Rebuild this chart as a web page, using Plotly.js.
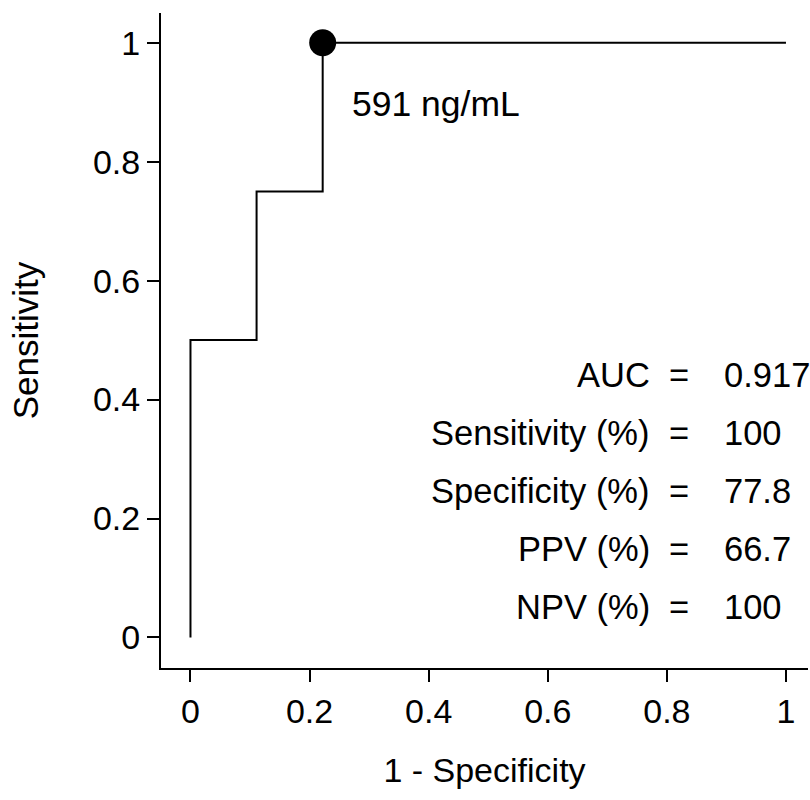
<!DOCTYPE html>
<html>
<head>
<meta charset="utf-8">
<script src="https://cdn.plot.ly/plotly-3.0.1.min.js"></script>
<style>html,body{margin:0;padding:0;background:#fff}</style>
</head>
<body>
<div id="chart" style="width:810px;height:800px"></div>
<script>
// ROC curve points (1 - specificity, sensitivity)
const fpr = [0, 0, 0.111, 0.111, 0.222, 0.222, 1];
const tpr = [0, 0.5, 0.5, 0.75, 0.75, 1, 1];
// Optimal cutoff
const cutX = [0.222];
const cutY = [1];
const cutLabel = "591 ng/mL";
// Statistics block
const statLabels = ["AUC", "Sensitivity (%)", "Specificity (%)", "PPV (%)", "NPV (%)"];
const statValues = ["0.917", "100", "77.8", "66.7", "100"];
const statY = [0.441, 0.344, 0.246, 0.149, 0.051];
const tickVals = [0, 0.2, 0.4, 0.6, 0.8, 1];
const tickText = ["0", "0.2", "0.4", "0.6", "0.8", "1"];

const FONT = "Liberation Sans, Arial, Helvetica, sans-serif";
const FS = 34;
const TS = 34.5;

const traces = [
  {x: fpr, y: tpr, mode: "lines", line: {color: "#000", width: 2, shape: "linear"}, hoverinfo: "skip"},
  {x: cutX, y: cutY, mode: "markers", marker: {color: "#000", size: 27}, hoverinfo: "skip"}
];

const ann = [{
  x: cutX[0], y: cutY[0], xref: "x", yref: "y", text: cutLabel, showarrow: false,
  xanchor: "left", yanchor: "middle", xshift: 27, yshift: -61,
  font: {family: FONT, size: TS + 1, color: "#000"}
}];
statLabels.forEach((lab, i) => {
  ann.push({x: 0.775, y: statY[i], xref: "x", yref: "y", text: lab, showarrow: false,
    xanchor: "right", yanchor: "middle", font: {family: FONT, size: TS, color: "#000"}});
  ann.push({x: 0.821, y: statY[i], xref: "x", yref: "y", text: "=", showarrow: false,
    xanchor: "center", yanchor: "middle", font: {family: FONT, size: TS, color: "#000"}});
  ann.push({x: 0.8925, y: statY[i], xref: "x", yref: "y", text: statValues[i], showarrow: false,
    xanchor: "left", yanchor: "middle", font: {family: FONT, size: TS, color: "#000"}});
});

const axisCommon = {
  showline: true, linecolor: "#000", linewidth: 2,
  ticks: "outside", ticklen: 12, tickwidth: 2, tickcolor: "#000",
  showgrid: false, zeroline: false,
  tickvals: tickVals, ticktext: tickText,
  tickfont: {family: FONT, size: FS, color: "#000"}
};

const layout = {
  width: 810, height: 800,
  margin: {l: 161, r: 2, t: 13, b: 132},
  paper_bgcolor: "#fff", plot_bgcolor: "#fff",
  showlegend: false,
  xaxis: Object.assign({}, axisCommon, {
    range: [-0.0495, 1.037],
    title: {text: "1 - Specificity", font: {family: FONT, size: 34, color: "#000"}, standoff: 29}
  }),
  yaxis: Object.assign({}, axisCommon, {
    range: [-0.0513, 1.05],
    title: {text: "Sensitivity", font: {family: FONT, size: 35, color: "#000"}, standoff: 44}
  }),
  annotations: ann
};

Plotly.newPlot("chart", traces, layout, {displayModeBar: false, staticPlot: true});
</script>
</body>
</html>
